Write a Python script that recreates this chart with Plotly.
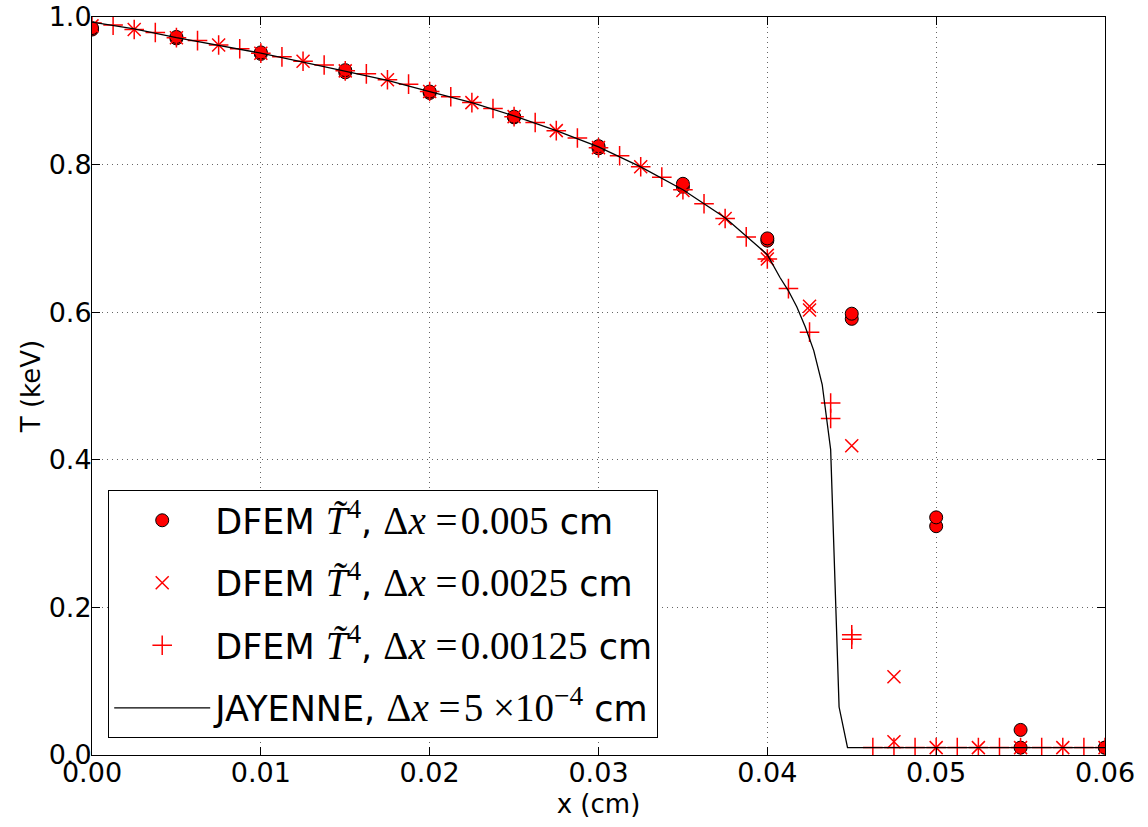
import plotly.graph_objects as go

# DFEM, dx = 0.005 cm (two values per node)
dfem1_x = [0.0, 0.0, 0.005, 0.005, 0.01, 0.01, 0.015, 0.015, 0.02, 0.02, 0.025, 0.025,
           0.03, 0.03, 0.035, 0.035, 0.04, 0.04, 0.045, 0.045, 0.05, 0.05, 0.055, 0.055,
           0.06, 0.06]
dfem1_T = [0.983, 0.985, 0.971, 0.973, 0.950, 0.952, 0.925, 0.928, 0.897, 0.899, 0.864, 0.865,
           0.822, 0.825, 0.770, 0.774, 0.697, 0.700, 0.591, 0.598, 0.310, 0.322, 0.010, 0.034,
           0.010, 0.010]

# DFEM, dx = 0.0025 cm
dfem2_x = [0.0, 0.0025, 0.005, 0.0075, 0.01, 0.0125, 0.015, 0.0175, 0.02, 0.0225, 0.025,
           0.0275, 0.03, 0.0325, 0.035, 0.0375, 0.04, 0.04, 0.0425, 0.0425, 0.045, 0.0475,
           0.0475, 0.05, 0.0525, 0.055, 0.0575, 0.06]
dfem2_T = [0.988, 0.983, 0.972, 0.962, 0.951, 0.940, 0.927, 0.915, 0.899, 0.884, 0.865,
           0.846, 0.823, 0.797, 0.765, 0.727, 0.677, 0.672, 0.608, 0.603, 0.419, 0.106,
           0.018, 0.010, 0.010, 0.010, 0.010, 0.010]

# DFEM, dx = 0.00125 cm
dfem3_x = [0.0, 0.00125, 0.0025, 0.00375, 0.005, 0.00625, 0.0075, 0.00875, 0.01, 0.01125,
           0.0125, 0.01375, 0.015, 0.01625, 0.0175, 0.01875, 0.02, 0.02125, 0.0225, 0.02375,
           0.025, 0.02625, 0.0275, 0.02875, 0.03, 0.03125, 0.0325, 0.03375, 0.035, 0.03625,
           0.0375, 0.03875, 0.04, 0.04125, 0.0425, 0.04375, 0.04375, 0.045, 0.045, 0.04625,
           0.0475, 0.04875, 0.05, 0.05125, 0.0525, 0.05375, 0.055, 0.05625, 0.0575, 0.05875,
           0.06]
dfem3_T = [0.992, 0.989, 0.983, 0.979, 0.972, 0.968, 0.962, 0.957, 0.951, 0.946,
           0.940, 0.935, 0.927, 0.923, 0.915, 0.909, 0.899, 0.892, 0.884, 0.876,
           0.865, 0.857, 0.846, 0.836, 0.823, 0.812, 0.797, 0.783, 0.766, 0.747,
           0.727, 0.702, 0.672, 0.632, 0.573, 0.477, 0.456, 0.163, 0.157, 0.010,
           0.010, 0.010, 0.010, 0.010, 0.010, 0.010, 0.010, 0.010, 0.010, 0.010,
           0.010]

# JAYENNE reference, dx = 5e-4 cm
jay_x = [0.0, 0.0025, 0.005, 0.0075, 0.01, 0.0125, 0.015, 0.0175, 0.02, 0.0225, 0.025,
         0.0275, 0.03, 0.0325, 0.035, 0.0375, 0.04, 0.04075, 0.04125, 0.04175, 0.04225,
         0.04275, 0.04325, 0.04375, 0.04425, 0.04475, 0.06]
jay_T = [0.993, 0.984, 0.972, 0.962, 0.951, 0.939, 0.927, 0.914, 0.899, 0.884, 0.866,
         0.846, 0.824, 0.797, 0.766, 0.728, 0.678, 0.647, 0.629, 0.607, 0.580,
         0.548, 0.502, 0.414, 0.065, 0.010, 0.010]

x_ticks = [0.0, 0.01, 0.02, 0.03, 0.04, 0.05, 0.06]
y_ticks = [0.0, 0.2, 0.4, 0.6, 0.8, 1.0]

SERIF = "font-family:'Liberation Serif', 'DejaVu Serif', serif;font-size:39px"
def label(prefix, dx):
    return (f"{prefix} <span style=\"{SERIF}\"><i>T̃</i><sup>4</sup></span>, "
            f"<span style=\"{SERIF}\">Δ<i>x</i> =&#8202;{dx}</span> cm")

fig = go.Figure()
fig.add_trace(go.Scatter(x=dfem1_x, y=dfem1_T, mode='markers', legendgroup='a',
                         name=label('DFEM', '0.005'),
                         marker=dict(symbol='circle', size=13, color='red',
                                     line=dict(color='black', width=1))))
fig.add_trace(go.Scatter(x=dfem2_x, y=dfem2_T, mode='markers', legendgroup='b',
                         name=label('DFEM', '0.0025'),
                         marker=dict(symbol='x-thin', size=13, color='red',
                                     line=dict(color='red', width=1.5))))
fig.add_trace(go.Scatter(x=dfem3_x, y=dfem3_T, mode='markers', legendgroup='c',
                         name=label('DFEM', '0.00125'),
                         marker=dict(symbol='cross-thin', size=14, color='red',
                                     line=dict(color='red', width=1.5))))
fig.add_trace(go.Scatter(x=jay_x, y=jay_T, mode='lines', legendgroup='d',
                         name=(f"JAYENNE, <span style=\"{SERIF}\">Δ<i>x</i> =&#8202;5 ×10<sup>−4</sup></span> cm"),
                         line=dict(color='black', width=1.3)))

axis_common = dict(showline=True, linecolor='black', linewidth=1, mirror='ticks',
                   ticks='inside', ticklen=8, tickcolor='black', automargin=False,
                   ticklabeloverflow='allow',
                   showgrid=True, gridcolor='#666666', griddash='1px,4px', gridwidth=1,
                   zeroline=False, tickfont=dict(size=27, color='black'))

fig.update_layout(
    width=1148, height=827,
    margin=dict(l=92, r=43, t=17, b=72),
    plot_bgcolor='white', paper_bgcolor='white',
    font=dict(family='DejaVu Sans', color='black'),
    xaxis=dict(range=[0, 0.06], tickvals=x_ticks, tickformat='.2f',
               ticklabelstandoff=-6,
               title=dict(text='x (cm)', font=dict(size=26), standoff=7), **axis_common),
    yaxis=dict(range=[0, 1.0], tickvals=y_ticks, tickformat='.1f',
               ticklabelstandoff=-6,
               title=dict(text='T (keV)', font=dict(size=26), standoff=0), **axis_common),
    legend=dict(x=0.016, y=0.023, xanchor='left', yanchor='bottom',
                bgcolor='white', bordercolor='black', borderwidth=1,
                font=dict(size=35, color='black'), tracegroupgap=14,
                itemwidth=96),
    showlegend=True,
)

# drop the default 8px page margin so the figure fills the window exactly
fig.write_html("out.html", config={'displayModeBar': False},
               post_script="document.body.style.margin='0';")
